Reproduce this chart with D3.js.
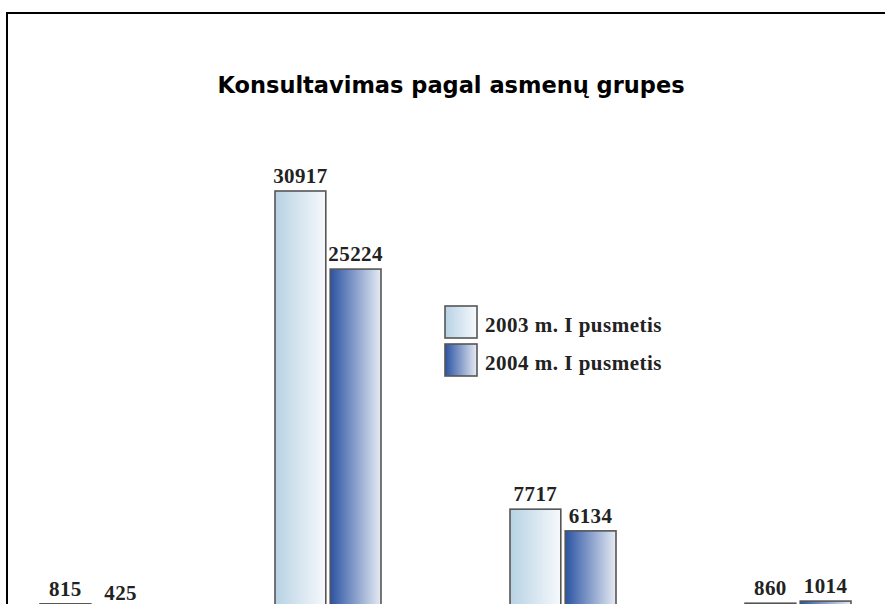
<!DOCTYPE html>
<html>
<head>
<meta charset="utf-8">
<script src="https://cdn.jsdelivr.net/npm/d3@7"></script>
<style>
  html, body { margin: 0; padding: 0; background: #fff; overflow: hidden; }
  svg { display: block; }
</style>
</head>
<body>
<div id="chart"></div>
<script>
// groups (their names are cut off below the picture)
var categories = ['Grupė 1', 'Grupė 2', 'Grupė 3', 'Grupė 4'];
var seriesNames = ['2003 m. I pusmetis', '2004 m. I pusmetis'];
var values2003 = [815, 30917, 7717, 860];
var values2004 = [425, 25224, 6134, 1014];

var width = 885, height = 604;

var svg = d3.select('#chart')
    .append('svg')
    .attr('width', width)
    .attr('height', height);

// gradient fills, light to white for 2003, dark blue to white for 2004
var defs = svg.append('defs');
var gradStops = [
    [{ o: '0%', c: '#b7d2e4' }, { o: '100%', c: '#f7f9fc' }],
    [{ o: '0%', c: '#2b53a3' }, { o: '100%', c: '#e6ebf3' }]
];
gradStops.forEach(function (stops, i) {
    var g = defs.append('linearGradient')
        .attr('id', 'grad' + i)
        .attr('x1', '0%').attr('x2', '100%')
        .attr('y1', '0%').attr('y2', '0%');
    stops.forEach(function (s) {
        g.append('stop').attr('offset', s.o).attr('stop-color', s.c);
    });
});

// frame, only top and left are in view
svg.append('rect')
    .attr('x', 7)
    .attr('y', 13)
    .attr('width', 900)
    .attr('height', 700)
    .attr('fill', 'none')
    .attr('stroke', '#000')
    .attr('stroke-width', 2);

svg.append('text')
    .attr('x', 451)
    .attr('y', 93)
    .attr('text-anchor', 'middle')
    .style('font-family', 'DejaVu Sans, Verdana, sans-serif')
    .style('font-weight', 'bold')
    .style('font-size', '22.5px')
    .text('Konsultavimas pagal asmenų grupes');

var xScale = d3.scaleBand()
    .domain(categories)
    .range([40, 851])
    .paddingInner(0.549)
    .paddingOuter(0);

var xInner = d3.scaleBand()
    .domain(seriesNames)
    .range([0, xScale.bandwidth()])
    .paddingInner(0.08);

// baseline sits below the visible area
var yScale = d3.scaleLinear()
    .domain([0, 30917])
    .range([615, 191]);

var data = [];
categories.forEach(function (c, i) {
    data.push({ cat: c, series: seriesNames[0], idx: 0, value: values2003[i] });
    data.push({ cat: c, series: seriesNames[1], idx: 1, value: values2004[i] });
});

var bars = svg.append('g').selectAll('g')
    .data(data)
    .enter()
    .append('g')
    .attr('transform', function (d) {
        return 'translate(' + (xScale(d.cat) + xInner(d.series)) + ',0)';
    });

bars.append('rect')
    .attr('x', 0)
    .attr('y', function (d) { return yScale(d.value); })
    .attr('width', xInner.bandwidth())
    .attr('height', function (d) { return yScale(0) - yScale(d.value); })
    .attr('fill', function (d) { return 'url(#grad' + d.idx + ')'; })
    .attr('stroke', '#555')
    .attr('stroke-width', 1.6);

// labels near the bottom edge are kept just inside the picture
bars.append('text')
    .attr('x', xInner.bandwidth() / 2)
    .attr('y', function (d) { return Math.min(yScale(d.value) - 8, 600); })
    .attr('text-anchor', 'middle')
    .style('font-family', 'Liberation Serif, Times New Roman, serif')
    .style('font-weight', 'bold')
    .style('font-size', '21px')
    .style('letter-spacing', '0.4px')
    .attr('fill', '#222')
    .text(function (d) { return d.value; });

// legend
var legend = svg.append('g')
    .attr('transform', 'translate(445,306)');

var legendItems = legend.selectAll('g')
    .data(seriesNames)
    .enter()
    .append('g')
    .attr('transform', function (d, i) { return 'translate(0,' + (i * 38) + ')'; });

legendItems.append('rect')
    .attr('width', 32)
    .attr('height', 32)
    .attr('fill', function (d, i) { return 'url(#grad' + i + ')'; })
    .attr('stroke', '#555')
    .attr('stroke-width', 1.6);

legendItems.append('text')
    .attr('x', 40)
    .attr('y', 26)
    .style('font-family', 'Liberation Serif, Times New Roman, serif')
    .style('font-weight', 'bold')
    .style('font-size', '21px')
    .style('letter-spacing', '0.5px')
    .attr('fill', '#222')
    .text(function (d) { return d; });
</script>
</body>
</html>
